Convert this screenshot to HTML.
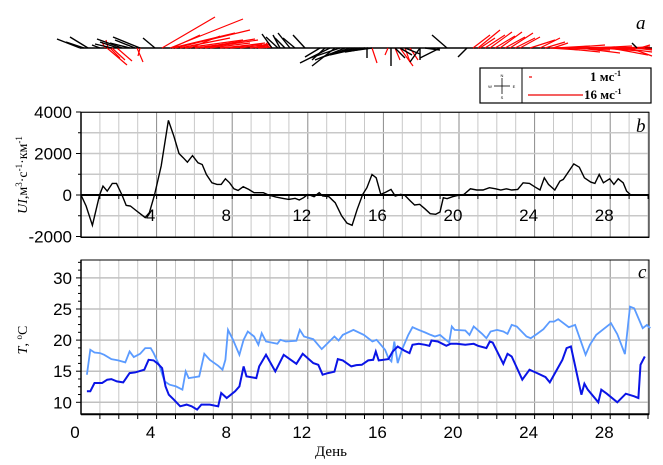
<!DOCTYPE html>
<html><head><meta charset="utf-8"><style>
html,body{margin:0;padding:0;background:#fff;}
svg{display:block;}
.t{font-family:"Liberation Sans",sans-serif;font-size:17px;fill:#000;}
.s{font-family:"Liberation Serif",serif;fill:#000;}
</style></head><body>
<svg id="g" width="663" height="465" viewBox="0 0 663 465" xmlns="http://www.w3.org/2000/svg">
<g id="grid"></g>
<g id="sticks"></g>
<rect x="480" y="68" width="171" height="35" fill="#fff" stroke="#000" stroke-width="1.2"/>
<line x1="522" y1="68" x2="522" y2="103" stroke="#000"/>
<g stroke="#000" stroke-width="0.8">
<line x1="502" y1="78" x2="502" y2="94"/><line x1="494" y1="86" x2="510" y2="86"/>
</g>
<text x="502" y="77" class="t" style="font-size:4px" text-anchor="middle">N</text>
<text x="502" y="99" class="t" style="font-size:4px" text-anchor="middle">S</text>
<text x="490" y="88" class="t" style="font-size:4px" text-anchor="middle">W</text>
<text x="514" y="88" class="t" style="font-size:4px" text-anchor="middle">E</text>
<line x1="529" y1="77" x2="532" y2="77" stroke="#e00" stroke-width="1.2"/>
<line x1="528" y1="95" x2="583" y2="95" stroke="#e00" stroke-width="1.2"/>
<text x="590" y="81" class="s" font-size="13" font-weight="bold">1 мс<tspan font-size="8" dy="-5">-1</tspan></text>
<text x="584" y="99" class="s" font-size="13" font-weight="bold">16 мс<tspan font-size="8" dy="-5">-1</tspan></text>
<text x="636" y="29" class="s" font-size="19" font-style="italic">a</text>
<text x="636" y="132" class="s" font-size="19" font-style="italic">b</text>
<text x="638" y="278" class="s" font-size="19" font-style="italic">c</text>
<g id="plots"></g>
<text x="331" y="456" class="s" font-size="15" text-anchor="middle">День</text>
<text transform="translate(27,175) rotate(-90)" class="s" font-size="14" text-anchor="middle"><tspan font-style="italic">UI</tspan>,м<tspan font-size="9" dy="-5">3</tspan><tspan dy="5">·с</tspan><tspan font-size="9" dy="-5">-1</tspan><tspan dy="5">·км</tspan><tspan font-size="9" dy="-5">-1</tspan></text>
<text transform="translate(27,340) rotate(-90)" class="s" font-size="14" text-anchor="middle"><tspan font-style="italic">T</tspan>, <tspan font-size="9" dy="-5">o</tspan><tspan dy="5">C</tspan></text>
</svg>
<script>
const NS="http://www.w3.org/2000/svg";
function el(p,n,a,txt){const e=document.createElementNS(NS,n);for(const k in a)e.setAttribute(k,a[k]);if(txt!==undefined)e.textContent=txt;document.getElementById(p).appendChild(e);return e;}
const X0=81,DX=18.9,XR=649;
const dx=d=>X0+DX*d;
const by=v=>195-v*0.02075;
const cy=v=>402.3-(v-10)*6.22;
for(let d=1;d<=30;d++){const x=dx(d);if(x>XR)break;const dark=d%4==0;
 const c=dark?'#8a8a8a':'#c8c8c8';
 el('grid','line',{x1:x,y1:112,x2:x,y2:237,stroke:c,'stroke-width':1});
 el('grid','line',{x1:x,y1:260,x2:x,y2:414,stroke:c,'stroke-width':1});}
for(const v of [4000,3000,2000,1000,-1000]) el('grid','line',{x1:X0,y1:by(v),x2:XR,y2:by(v),stroke:'#c8c8c8','stroke-width':1.5});
for(const v of [30,25,20,15,10]) el('grid','line',{x1:X0,y1:cy(v),x2:XR,y2:cy(v),stroke:'#c0c0c0','stroke-width':1.5});
el('plots','rect',{x:X0,y:112.3,width:XR-X0,height:125,fill:'none',stroke:'#000','stroke-width':1});
el('plots','rect',{x:X0,y:260,width:XR-X0,height:154.3,fill:'none',stroke:'#000','stroke-width':1});
el('plots','line',{x1:X0,y1:237.3,x2:XR,y2:237.3,stroke:'#000','stroke-width':1.5});
el('plots','line',{x1:X0,y1:112,x2:X0,y2:237.3,stroke:'#000','stroke-width':1.5});
el('plots','line',{x1:X0,y1:195,x2:XR,y2:195,stroke:'#000','stroke-width':2});
el('plots','line',{x1:X0,y1:260,x2:X0,y2:414.3,stroke:'#000','stroke-width':1.5});
el('plots','line',{x1:X0,y1:414.3,x2:XR,y2:414.3,stroke:'#000','stroke-width':2});
for(let v=-2000;v<=4000;v+=1000){el('plots','line',{x1:X0-(v%2000==0?5:3),y1:by(v),x2:X0,y2:by(v),stroke:'#000'});}
for(let v=10;v<=32.5;v+=1.25){const maj=v%5==0;el('plots','line',{x1:X0-(maj?5:3),y1:cy(v),x2:X0,y2:cy(v),stroke:'#000'});}
for(let d=1;d<=30;d++){const x=dx(d);if(x>XR+1)break;el('plots','line',{x1:x,y1:195,x2:x,y2:199,stroke:'#000'});el('plots','line',{x1:x,y1:414,x2:x,y2:419,stroke:'#000'});}
[[4000,'4000'],[2000,'2000'],[0,'0'],[-2000,'-2000']].forEach(([v,t])=>el('plots','text',{x:72,y:by(v)+6,'text-anchor':'end',class:'t'},t));
[30,25,20,15,10].forEach(v=>el('plots','text',{x:72,y:cy(v)+6,'text-anchor':'end',class:'t'},String(v)));
for(let d=0;d<=28;d+=4){el('plots','text',{x:dx(d)-6,y:438,'text-anchor':'middle',class:'t'},String(d));
 if(d>0)el('plots','text',{x:dx(d)-6,y:221,'text-anchor':'middle',class:'t'},String(d));}
const zb=[[182,0],[200,-530],[215,-1460],[232,0],[240,430],[250,190],[262,560],[272,560],[285,0],[295,-500],[305,-530],[320,-770],[340,-1090],[350,-850],[362,0],[378,1400],[395,3600],[408,2830],[420,2000],[430,1800],[440,1580],[452,1900],[465,1550],[475,1470],[485,990],[498,590],[510,510],[520,510],[530,780],[540,590],[550,300],[560,220],[572,400],[585,270],[598,110],[620,110],[632,0],[650,-100],[665,-160],[680,-210],[695,-160],[705,-240],[715,-130],[725,30],[740,-80],[752,110],[760,-50],[775,-80],[790,-370],[805,-1000],[818,-1360],[830,-1460],[842,-690],[855,30],[865,350],[877,990],[887,830],[898,30],[910,140],[922,270],[932,-50],[945,30],[955,-20],[968,-290],[978,-480],[990,-450],[1002,-660],[1015,-900],[1028,-930],[1038,-820],[1046,-130],[1055,-180],[1068,-80],[1080,-20],[1095,30],[1110,300],[1125,240],[1140,240],[1155,350],[1170,300],[1182,240],[1195,300],[1208,240],[1222,270],[1235,590],[1250,560],[1262,400],[1275,240],[1285,830],[1295,510],[1310,240],[1322,670],[1330,750],[1345,1200],[1355,1500],[1368,1340],[1380,830],[1395,620],[1405,560],[1415,990],[1425,590],[1440,780],[1450,510],[1460,780],[1472,590],[1480,190],[1490,0]];
const zx=z=>Math.max(X0,81+(z-188)/2.368);
el('plots','polyline',{points:zb.map(p=>zx(p[0]).toFixed(1)+','+by(p[1]).toFixed(1)).join(' '),fill:'none',stroke:'#000','stroke-width':1.4});
const cyz=z=>277.7+(z-113)*0.3323;
const cxz=z=>81+(z-190)/2.368;
const light=[[204,405],[212,330],[222,338],[235,340],[245,345],[262,358],[278,362],[295,368],[305,335],[315,352],[330,342],[342,325],[355,325],[362,340],[375,375],[388,425],[400,435],[415,440],[430,450],[438,395],[445,415],[470,410],[482,342],[495,360],[515,378],[525,390],[532,360],[538,270],[550,300],[565,345],[575,300],[585,275],[600,290],[610,315],[618,280],[628,305],[655,312],[662,300],[675,305],[700,303],[708,270],[718,290],[740,298],[760,328],[790,290],[800,302],[810,285],[835,270],[860,285],[880,305],[890,300],[910,330],[918,355],[925,365],[932,305],[940,370],[950,330],[965,285],[975,262],[990,270],[1005,278],[1018,285],[1028,290],[1040,285],[1052,298],[1062,308],[1068,260],[1075,270],[1100,272],[1110,285],[1120,260],[1140,282],[1150,295],[1160,275],[1175,270],[1190,275],[1200,282],[1210,255],[1222,260],[1245,290],[1255,295],[1270,282],[1285,268],[1300,245],[1310,245],[1320,238],[1345,262],[1360,255],[1385,345],[1395,315],[1410,285],[1445,250],[1460,283],[1478,343],[1490,200],[1500,205],[1520,265],[1530,255],[1538,265]];
const dark=[[204,455],[212,455],[222,430],[240,430],[252,420],[262,418],[275,425],[290,428],[305,400],[318,398],[340,390],[350,360],[362,362],[372,372],[382,385],[390,440],[398,465],[410,480],[425,500],[440,495],[452,500],[465,510],[475,495],[495,495],[515,500],[522,460],[535,475],[555,455],[565,440],[575,380],[582,410],[605,415],[612,380],[628,345],[650,395],[670,345],[700,372],[715,342],[740,370],[752,375],[762,405],[775,400],[790,396],[798,358],[810,362],[830,380],[842,376],[855,375],[870,362],[882,360],[888,335],[895,362],[918,358],[928,335],[940,320],[955,332],[968,340],[975,315],[990,312],[1005,315],[1015,318],[1020,302],[1035,305],[1055,318],[1065,312],[1080,312],[1100,315],[1120,312],[1130,318],[1150,325],[1158,305],[1165,308],[1190,372],[1200,342],[1210,350],[1235,420],[1252,390],[1270,400],[1290,412],[1300,428],[1330,360],[1340,325],[1350,320],[1375,465],[1382,432],[1390,450],[1415,488],[1422,450],[1435,462],[1460,488],[1480,462],[1500,470],[1510,475],[1515,375],[1525,350]];
el('plots','polyline',{points:light.map(p=>cxz(p[0]).toFixed(1)+','+cyz(p[1]).toFixed(1)).join(' '),fill:'none',stroke:'#5b9bff','stroke-width':1.8});
el('plots','polyline',{points:dark.map(p=>cxz(p[0]).toFixed(1)+','+cyz(p[1]).toFixed(1)).join(' '),fill:'none',stroke:'#0a14e6','stroke-width':2});
el('sticks','line',{x1:80,y1:48,x2:652,y2:48,stroke:'#000','stroke-width':1.5});
const K=[[80,57,39],[88,70,37],[84,66,42],[122,97,39],[118,100,42],[112,95,44],[140,113,37],[135,115,40],[130,110,43],[155,143,38],[100,92,45],
[272,262,34],[278,266,37],[280,273,35],[285,275,38],[290,278,33],[295,283,38],[305,293,35],
[330,300,63],[335,312,66],[340,310,58],[345,315,60],[350,320,58],[355,325,56],[360,330,55],[365,335,53],[320,305,57],[325,312,60],[368,345,52],[372,350,51],
[367,367,58],[391,391,66],[395,405,58],[400,412,55],[405,420,54],[420,420,60],[420,410,62],[425,440,50],[447,432,35],[467,458,57],[440,420,58],[637,632,43]];
const R=[[105,102,42],[108,106,40],[107,127,65],[112,125,60],[117,132,61],[110,120,58],[137,143,62],[140,138,56],
[162,215,17],[170,243,19],[175,250,30],[172,235,33],[180,230,38],[185,243,40],[195,240,42],[200,255,39],[205,258,40],[210,250,43],[220,262,44],[225,265,43],[230,268,45],[240,270,44],[250,268,46],[255,270,44],[262,268,42],[266,270,45],[172,200,35],[190,220,36],[258,272,47],
[372,377,63],[400,413,66],[405,410,62],[395,400,60],[410,418,60],[388,385,55],
[473,490,35],[478,500,30],[485,505,35],[490,512,32],[495,515,36],[500,522,32],[505,525,37],[510,533,33],[515,535,38],[520,540,37],[530,555,40],[540,560,38],[545,565,42],[553,568,43],[480,495,38],
[550,580,50],[555,590,46],[560,600,52],[565,605,45],[570,610,50],[575,615,47],[580,620,53],[590,628,49],[595,632,46],[600,640,51],[605,645,48],[610,648,55],[615,650,47],[620,652,52],[625,652,49],[630,652,56],[635,652,50],[640,650,45]];
R.forEach(s=>el('sticks','line',{x1:s[0],y1:48,x2:s[1],y2:s[2],stroke:'#f00','stroke-width':1.2}));
K.forEach(s=>el('sticks','line',{x1:s[0],y1:48,x2:s[1],y2:s[2],stroke:'#000','stroke-width':1.4}));
</script>
</body></html>
